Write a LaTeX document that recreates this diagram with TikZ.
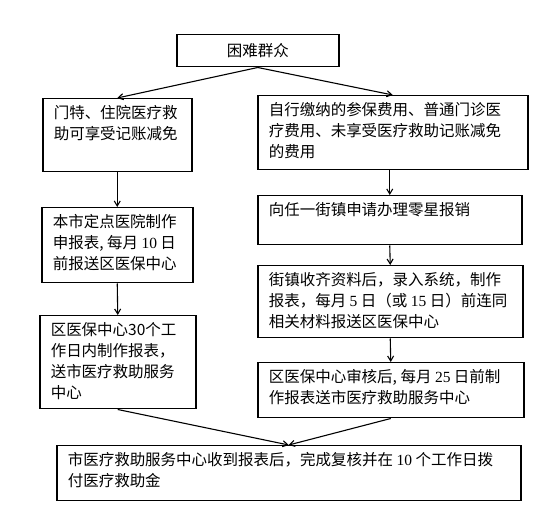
\documentclass[tikz,border=0pt]{standalone}
\usepackage{fontspec}
\setmainfont{Noto Sans CJK SC}
\newfontfamily\numfont{Liberation Serif}
\usetikzlibrary{arrows.meta}
\newcommand{\nm}[1]{{\numfont #1}}
\newcommand{\cellbox}[3]{\parbox[c][\dimexpr #2pt-14pt\relax][t]{\dimexpr #1pt-22pt\relax}%
  {\fontsize{15.5pt}{21pt}\selectfont\raggedright #3}}
\tikzset{
  headbox/.style={draw=black, line width=1.5pt, anchor=north west, inner sep=0pt,
                  minimum width=162pt, minimum height=32pt,
                  font=\fontsize{15.5pt}{18pt}\selectfont},
  stepbox/.style={draw=black, line width=1.5pt, anchor=north west,
                  inner xsep=11pt, inner ysep=7pt},
  flow/.style={-{Straight Barb[length=5pt,width=6pt]}, line width=1.1pt}
}

\begin{document}
\begin{tikzpicture}[x=1pt, y=-1pt]
\useasboundingbox (0,0) rectangle (550,518);

%% Start
\node[headbox] (crowd) at (176,34) {困难群众};

%% Left column: direct settlement
\node[stepbox] (mt) at (42,98)
  {\cellbox{149}{73}{门特、住院医疗救\\助可享受记账减免}};
\node[stepbox] (hosp) at (41,207)
  {\cellbox{151}{75}{本市定点医院制作\\申报表, 每月 \nm{10} 日\\前报送区医保中心}};
\node[stepbox] (district) at (39,315)
  {\cellbox{156}{93}{区医保中心30个工\\作日内制作报表，\\送市医疗救助服务\\中心}};

%% Right column: reimbursement via street office
\node[stepbox] (self) at (257,95)
  {\cellbox{270}{74}{自行缴纳的参保费用、普通门诊医\\疗费用、未享受医疗救助记账减免\\的费用}};
\node[stepbox] (street) at (257,195)
  {\cellbox{264}{49}{向任一街镇申请办理零星报销}};
\node[stepbox] (collect) at (257,265)
  {\cellbox{265}{72}{街镇收齐资料后，录入系统，制作\\报表，每月 \nm{5} 日（或 \nm{15} 日）前连同\\相关材料报送区医保中心}};
\node[stepbox] (review) at (257,362)
  {\cellbox{266}{55}{区医保中心审核后, 每月 \nm{25} 日前制\\作报表送市医疗救助服务中心}};

%% End
\node[stepbox] (city) at (56,445)
  {\cellbox{464}{55}{市医疗救助服务中心收到报表后，完成复核并在 \nm{10} 个工作日拨\\付医疗救助金}};

%% Flow
\draw[flow] (crowd.south) -- (mt.north);
\draw[flow] (crowd.south) -- (self.north);
% left chain
\draw[flow] (mt.south)   -- (hosp.north);
\draw[flow] (hosp.south) -- (district.north);
% right chain
\draw[flow] (self.south -| street.north) -- (street.north);
\draw[flow] (street.south)  -- (collect.north);
\draw[flow] (collect.south) -- (review.north);
% both into the city centre
\draw[flow] (district.south) -- (city.north);
\draw[flow] (review.south)   -- (city.north);

\end{tikzpicture}
\end{document}
